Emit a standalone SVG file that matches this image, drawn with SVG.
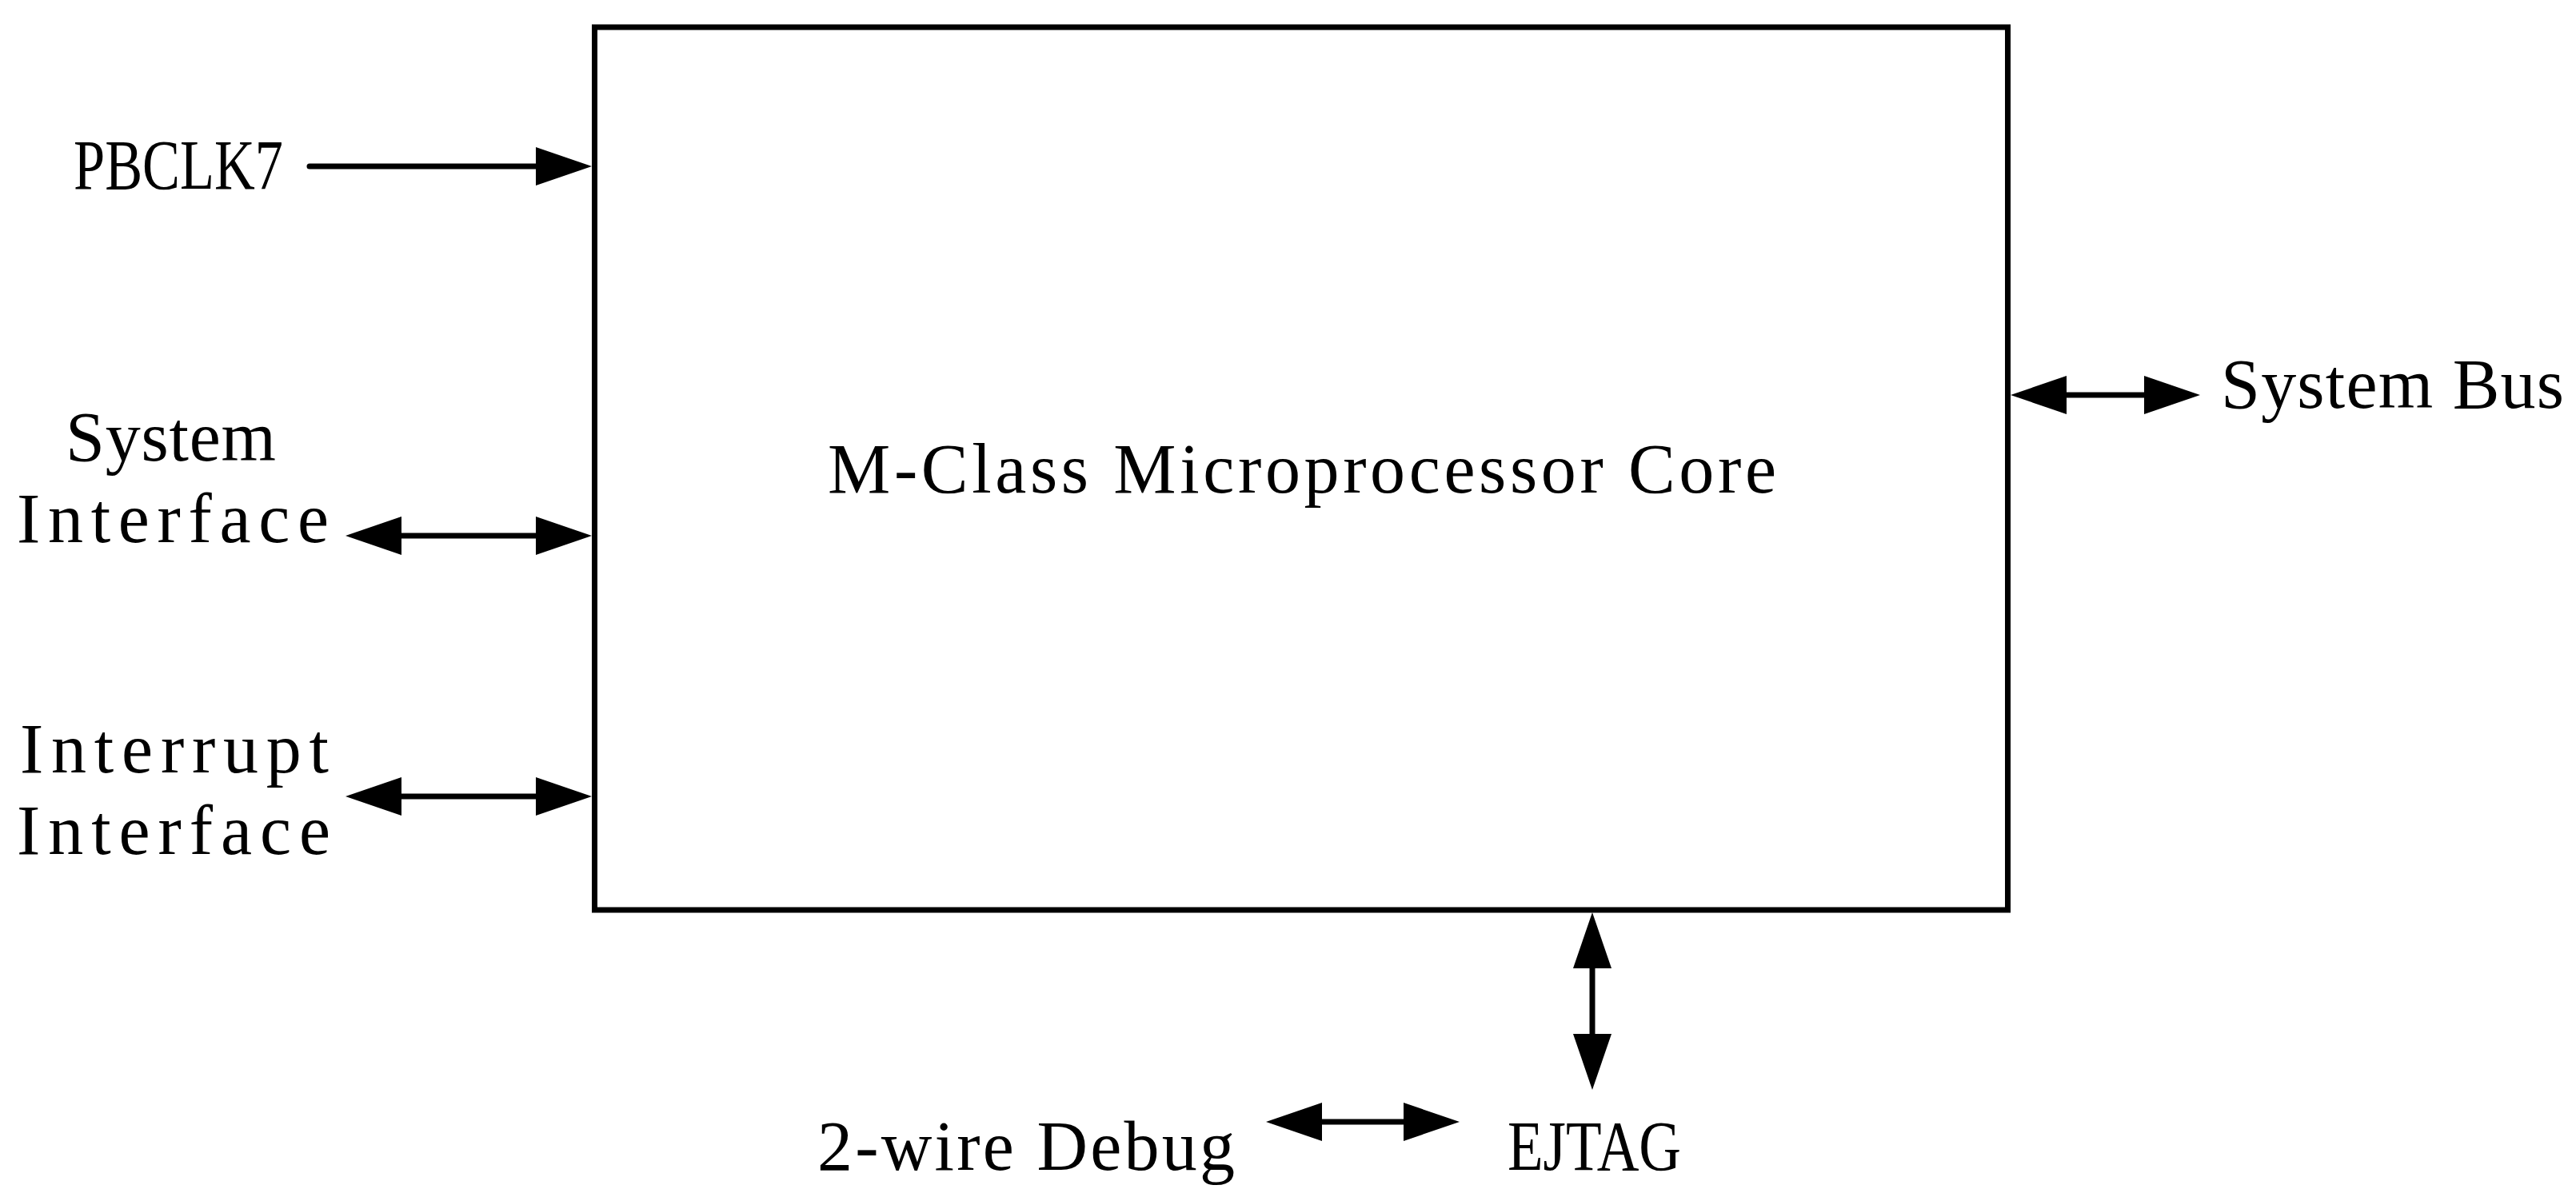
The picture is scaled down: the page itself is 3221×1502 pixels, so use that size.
<svg xmlns="http://www.w3.org/2000/svg" width="3221" height="1502" viewBox="0 0 3221 1502">
<style>
.t{font-family:"Liberation Serif","Times New Roman",serif;font-size:88px;fill:#000}
.ln{stroke:#000;stroke-width:7;fill:none}
.box{stroke:#000;stroke-width:7;fill:#fff}
</style>
<defs>
<marker id="ah" viewBox="0 0 70 48" markerWidth="70" markerHeight="48" refX="50" refY="24" orient="auto-start-reverse" markerUnits="userSpaceOnUse">
<path d="M0,0 L70,24 L0,48 Z" fill="#000"/>
</marker>
</defs>
<rect width="3221" height="1502" fill="#fff"/>
<g id="core">
<rect class="box" x="743.5" y="34" width="1767" height="1104"/>
<text class="t" x="1035" y="616" textLength="1186" lengthAdjust="spacing">M-Class Microprocessor Core</text>
</g>
<g id="pbclk7"><text class="t" x="92" y="236" textLength="262" lengthAdjust="spacingAndGlyphs">PBCLK7</text></g>
<g id="sysif"><text class="t" x="82" y="576" textLength="263" lengthAdjust="spacing">System</text><text class="t" x="21" y="678" textLength="390" lengthAdjust="spacing">Interface</text></g>
<g id="intif"><text class="t" x="25" y="966" textLength="386" lengthAdjust="spacing">Interrupt</text><text class="t" x="21" y="1068" textLength="392" lengthAdjust="spacing">Interface</text></g>
<g id="sysbus"><text class="t" x="2777" y="510" textLength="429" lengthAdjust="spacing">System Bus</text></g>
<g id="ejtag"><text class="t" x="1885" y="1463" textLength="217" lengthAdjust="spacingAndGlyphs">EJTAG</text></g>
<g id="debug"><text class="t" x="1022" y="1463" textLength="522" lengthAdjust="spacing">2-wire Debug</text></g>
<g id="connectors">
<line class="ln" x1="387" y1="208" x2="720" y2="208" stroke-linecap="round" marker-end="url(#ah)"/>
<line class="ln" x1="452" y1="670" x2="720" y2="670" marker-start="url(#ah)" marker-end="url(#ah)"/>
<line class="ln" x1="452" y1="996" x2="720" y2="996" marker-start="url(#ah)" marker-end="url(#ah)"/>
<line class="ln" x1="2534" y1="494" x2="2731" y2="494" marker-start="url(#ah)" marker-end="url(#ah)"/>
<line class="ln" x1="1991" y1="1161" x2="1991" y2="1343" marker-start="url(#ah)" marker-end="url(#ah)"/>
<line class="ln" x1="1603" y1="1403" x2="1805" y2="1403" marker-start="url(#ah)" marker-end="url(#ah)"/>
</g>
</svg>
